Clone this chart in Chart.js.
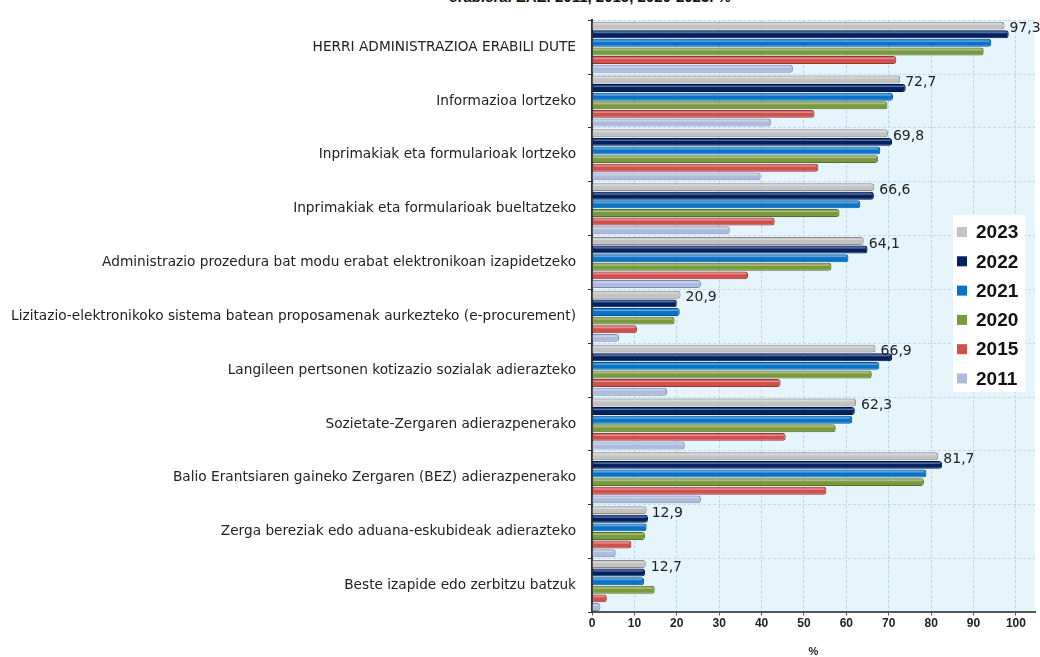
<!DOCTYPE html>
<html>
<head>
<meta charset="utf-8">
<script src="https://cdn.jsdelivr.net/npm/chart.js@4.4.0/dist/chart.umd.min.js"></script>
<style>
  body { margin: 0; background: #fff; overflow: hidden; }
  #wrap { position: relative; width: 1040px; height: 657px; }
  #title { position: absolute; top: -12px; left: 0; width: 1180px; text-align: center;
           font: bold 15px "Liberation Sans", Arial, sans-serif; color: #111; }
  canvas { position: absolute; top: 0; left: 0; }
</style>
</head>
<body>
<div id="wrap">
  <div id="title">erabiera. EAE. 2011, 2015, 2020-2023. %</div>
  <canvas id="chart" width="1040" height="657"></canvas>
</div>
<script>
const categories = [
  'HERRI ADMINISTRAZIOA ERABILI DUTE',
  'Informazioa lortzeko',
  'Inprimakiak eta formularioak lortzeko',
  'Inprimakiak eta formularioak bueltatzeko',
  'Administrazio prozedura bat modu erabat elektronikoan izapidetzeko',
  'Lizitazio-elektronikoko sistema batean proposamenak aurkezteko (e-procurement)',
  'Langileen pertsonen kotizazio sozialak adierazteko',
  'Sozietate-Zergaren adierazpenerako',
  'Balio Erantsiaren gaineko Zergaren (BEZ) adierazpenerako',
  'Zerga bereziak edo aduana-eskubideak adierazteko',
  'Beste izapide edo zerbitzu batzuk'
];
const years = ['2023', '2022', '2021', '2020', '2015', '2011'];
const v2023 = [97.3, 72.7, 69.8, 66.6, 64.1, 20.9, 66.9, 62.3, 81.7, 12.9, 12.7];
const v2022 = [98.3, 74.0, 70.8, 66.5, 65.0, 20.0, 70.8, 62.0, 82.6, 13.2, 12.5];
const v2021 = [94.2, 71.0, 68.0, 63.3, 60.5, 20.7, 67.8, 61.4, 78.9, 12.9, 12.3];
const v2020 = [92.4, 69.7, 67.5, 58.4, 56.5, 19.5, 66.0, 57.5, 78.3, 12.5, 14.8];
const v2015 = [71.8, 52.5, 53.4, 43.1, 36.8, 10.6, 44.5, 45.7, 55.3, 9.3, 3.5];
const v2011 = [47.4, 42.2, 39.8, 32.5, 25.7, 6.4, 17.7, 21.9, 25.7, 5.6, 2.0];
const xTicks = [0, 10, 20, 30, 40, 50, 60, 70, 80, 90, 100];

const seriesValues = [v2023, v2022, v2021, v2020, v2015, v2011];
const fills = ['#c3c3c3', '#002262', '#0873c8', '#7a9a3e', '#cf504d', '#aebbdc'];
const edges = ['#8a8a8a', '#00133a', '#045596', '#566f28', '#973633', '#7d8db5'];

// fond bleu clair de la zone de tracé
const plotBg = {
  id: 'plotBg',
  beforeDraw(chart) {
    const { ctx, chartArea: a } = chart;
    ctx.save();
    ctx.fillStyle = '#e6f5fc';
    ctx.fillRect(a.left, a.top, a.right - a.left, a.bottom - a.top);
    ctx.restore();
  }
};

// reflet clair sur le haut de chaque barre (effet relief)
const barShine = {
  id: 'barShine',
  afterDatasetsDraw(chart) {
    const { ctx } = chart;
    ctx.save();
    chart.data.datasets.forEach((ds, i) => {
      chart.getDatasetMeta(i).data.forEach(bar => {
        const top = bar.y - bar.height / 2;
        const w = bar.x - bar.base - 3;
        if (w <= 0) return;
        ctx.fillStyle = 'rgba(255,255,255,0.35)';
        ctx.fillRect(bar.base + 1, top + 1.5, w, 1.5);
      });
    });
    ctx.restore();
  }
};

// étiquettes des valeurs 2023
const valueLabels = {
  id: 'valueLabels',
  afterDatasetsDraw(chart) {
    const { ctx } = chart;
    const meta = chart.getDatasetMeta(0);
    ctx.save();
    ctx.font = '14px "DejaVu Sans", sans-serif';
    ctx.fillStyle = '#222';
    ctx.textBaseline = 'middle';
    meta.data.forEach((bar, i) => {
      const txt = v2023[i].toFixed(1).replace('.', ',');
      ctx.fillText(txt, bar.x + 5, bar.y + 3);
    });
    ctx.restore();
  }
};

// légende dans un cadre blanc à droite
const boxLegend = {
  id: 'boxLegend',
  afterDraw(chart) {
    const { ctx, chartArea: a } = chart;
    const w = 72, rowH = 29.3, h = 177;
    const x = a.right - 82, y = 215;
    ctx.save();
    ctx.fillStyle = '#fff';
    ctx.fillRect(x, y, w, h);
    ctx.font = 'bold 19px "Liberation Sans", Arial, sans-serif';
    ctx.textBaseline = 'middle';
    chart.data.datasets.forEach((ds, i) => {
      const cy = y + 17 + i * rowH;
      ctx.fillStyle = ds.backgroundColor;
      ctx.fillRect(x + 4, cy - 5, 10, 10);
      ctx.fillStyle = '#111';
      ctx.fillText(ds.label, x + 23, cy + 1);
    });
    ctx.restore();
  }
};

new Chart(document.getElementById('chart'), {
  type: 'bar',
  data: {
    labels: categories,
    datasets: years.map((y, i) => ({
      label: y,
      data: seriesValues[i],
      backgroundColor: fills[i],
      borderColor: edges[i],
      borderWidth: 1,
      borderRadius: { topRight: 3, bottomRight: 3 },
      borderSkipped: 'start',
      categoryPercentage: 0.96,
      barPercentage: 0.92
    }))
  },
  options: {
    indexAxis: 'y',
    responsive: false,
    animation: false,
    layout: { padding: { top: 15, right: 5, left: 0, bottom: 0 } },
    plugins: {
      legend: { display: false },
      tooltip: { enabled: false }
    },
    scales: {
      x: {
        min: 0,
        max: 104.5,
        afterBuildTicks(scale) {
          scale.ticks = xTicks.map(v => ({ value: v }));
        },
        ticks: {
          font: { family: '"Liberation Sans", Arial, sans-serif', size: 12, weight: 'bold' },
          color: '#222',
          padding: 1
        },
        grid: {
          color: '#bcd3ec',
          tickColor: '#555',
          tickLength: 3
        },
        border: { display: true, color: '#555', width: 2, dash: [3, 2] },
        title: {
          display: true,
          text: '%',
          font: { family: '"Liberation Sans", Arial, sans-serif', size: 11, weight: 'bold' },
          color: '#222',
          padding: { top: 14, bottom: -2 }
        }
      },
      y: {
        afterFit(scale) { scale.width = 592; },
        ticks: {
          font: { family: '"DejaVu Sans", sans-serif', size: 13.7 },
          color: '#222',
          padding: 12,
          autoSkip: false
        },
        grid: {
          color: '#c4d8ee',
          tickColor: '#333',
          tickLength: 4
        },
        border: { display: true, color: '#333', width: 2, dash: [3, 2] }
      }
    }
  },
  plugins: [plotBg, barShine, valueLabels, boxLegend]
});
</script>
</body>
</html>
